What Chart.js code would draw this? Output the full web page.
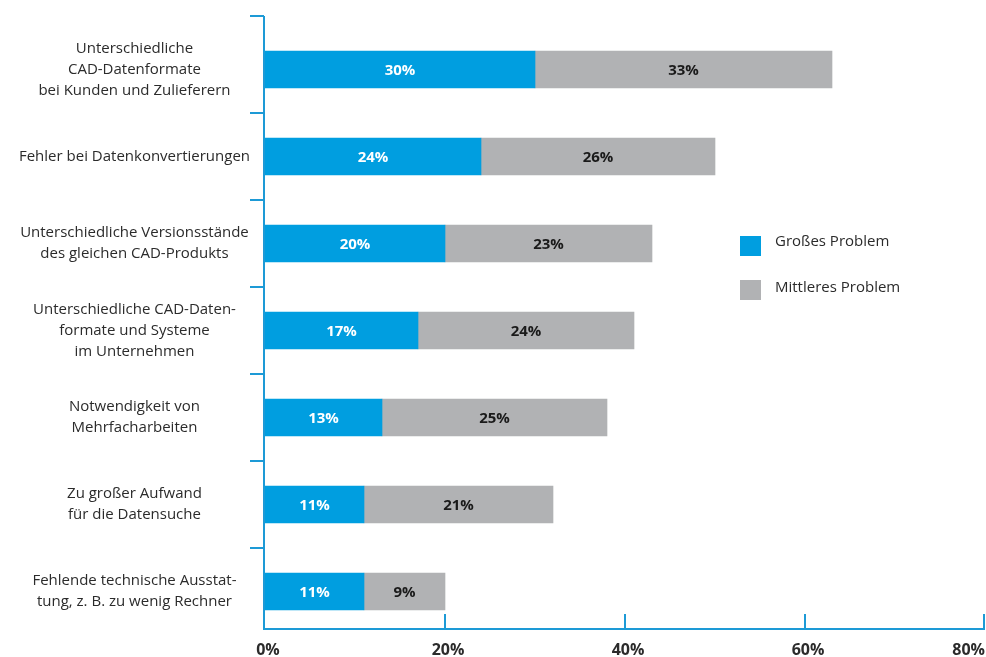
<!DOCTYPE html>
<html lang="de">
<head>
<meta charset="utf-8">
<title>Probleme beim CAD-Datenaustausch</title>
<script src="https://cdn.jsdelivr.net/npm/chart.js@4"></script>
<style>
  html, body { margin: 0; padding: 0; background: #fff; }
  canvas { display: block; }
</style>
</head>
<body>
<canvas id="chart" width="986" height="657"></canvas>
<script>
// Categories (multi-line labels as arrays)
const categories = [
    ['Unterschiedliche', 'CAD-Datenformate', 'bei Kunden und Zulieferern'],
    'Fehler bei Datenkonvertierungen',
    ['Unterschiedliche Versionsstände', 'des gleichen CAD-Produkts'],
    ['Unterschiedliche CAD-Daten-', 'formate und Systeme', 'im Unternehmen'],
    ['Notwendigkeit von', 'Mehrfacharbeiten'],
    ['Zu großer Aufwand', 'für die Datensuche'],
    ['Fehlende technische Ausstat-', 'tung, z. B. zu wenig Rechner']
];

// Share of respondents (%)
const grossesProblem = [30, 24, 20, 17, 13, 11, 11];
const mittleresProblem = [33, 26, 23, 24, 25, 21, 9];
const seriesNames = ['Großes Problem', 'Mittleres Problem'];
const xTickValues = [0, 20, 40, 60, 80];

const BLUE = '#009ee0';
const GREY = '#b1b2b4';
const AXIS = '#1d9ad6';
const TEXT = '#2b2b2b';
const FONT = '"Open Sans", "DejaVu Sans", sans-serif';

// Axis lines, band ticks, x labels, value labels and legend
const decorations = {
    id: 'decorations',
    afterDatasetsDraw(chart) {
        const ctx = chart.ctx;
        const area = chart.chartArea;
        const x = chart.scales.x;
        const y = chart.scales.y;
        const axisTop = area.top - 10;
        const axisBottom = area.bottom - 6;

        ctx.save();
        ctx.strokeStyle = AXIS;
        ctx.lineWidth = 2;

        // y axis with ticks between categories
        ctx.beginPath();
        ctx.moveTo(area.left - 1, axisTop);
        ctx.lineTo(area.left - 1, axisBottom);
        ctx.moveTo(area.left - 15, axisTop);
        ctx.lineTo(area.left - 1, axisTop);
        for (let i = 1; i < categories.length; i++) {
            const b = (y.getPixelForValue(i - 1) + y.getPixelForValue(i)) / 2;
            ctx.moveTo(area.left - 15, b);
            ctx.lineTo(area.left - 1, b);
        }
        // x axis with ticks pointing up
        ctx.moveTo(area.left - 2, axisBottom);
        ctx.lineTo(x.getPixelForValue(80), axisBottom);
        xTickValues.slice(1).forEach(v => {
            const px = Math.min(x.getPixelForValue(v), area.right - 1);
            ctx.moveTo(px, axisBottom);
            ctx.lineTo(px, axisBottom - 15);
        });
        ctx.stroke();

        // x tick labels
        ctx.font = 'bold 16px ' + FONT;
        ctx.fillStyle = TEXT;
        ctx.textBaseline = 'middle';
        xTickValues.forEach((v, i) => {
            const px = x.getPixelForValue(v);
            const last = i === xTickValues.length - 1;
            ctx.textAlign = last ? 'right' : 'center';
            ctx.fillText(v + '%', last ? px : px + 3, axisBottom + 21);
        });

        // value labels centred in each segment
        ctx.font = 'bold 15px ' + FONT;
        ctx.textAlign = 'center';
        chart.data.datasets.forEach((ds, di) => {
            const meta = chart.getDatasetMeta(di);
            ctx.fillStyle = di === 0 ? '#ffffff' : '#1a1a1a';
            meta.data.forEach((bar, i) => {
                ctx.fillText(ds.data[i] + '%', (bar.x + bar.base) / 2, bar.y + 1);
            });
        });

        // legend
        ctx.font = '15px ' + FONT;
        ctx.textAlign = 'left';
        const lx = area.left + 475;
        chart.data.datasets.forEach((ds, di) => {
            const ly = area.top + 220 + di * 44;
            ctx.fillStyle = ds.backgroundColor;
            ctx.fillRect(lx, ly - 10, 21, 20);
            ctx.fillStyle = TEXT;
            ctx.fillText(ds.label, lx + 35, ly - 4 + di * 2);
        });
        ctx.restore();
    }
};

new Chart(document.getElementById('chart'), {
    type: 'bar',
    data: {
        labels: categories,
        datasets: [
            { label: seriesNames[0], data: grossesProblem, backgroundColor: BLUE },
            { label: seriesNames[1], data: mittleresProblem, backgroundColor: GREY }
        ]
    },
    options: {
        indexAxis: 'y',
        responsive: false,
        animation: false,
        barThickness: 37,
        layout: { padding: { top: 26, bottom: 22, right: 1, left: 0 } },
        plugins: {
            legend: { display: false },
            tooltip: { enabled: false }
        },
        scales: {
            x: {
                stacked: true,
                display: false,
                min: 0,
                max: 80
            },
            y: {
                stacked: true,
                grid: { display: false },
                border: { display: false },
                ticks: {
                    crossAlign: 'center',
                    padding: 7,
                    color: TEXT,
                    font: { family: FONT, size: 15, lineHeight: 1.4 }
                },
                afterFit(scale) {
                    scale.width = 265;
                    scale.paddingTop = 0;
                    scale.paddingBottom = 0;
                }
            }
        }
    },
    plugins: [decorations]
});
</script>
</body>
</html>
